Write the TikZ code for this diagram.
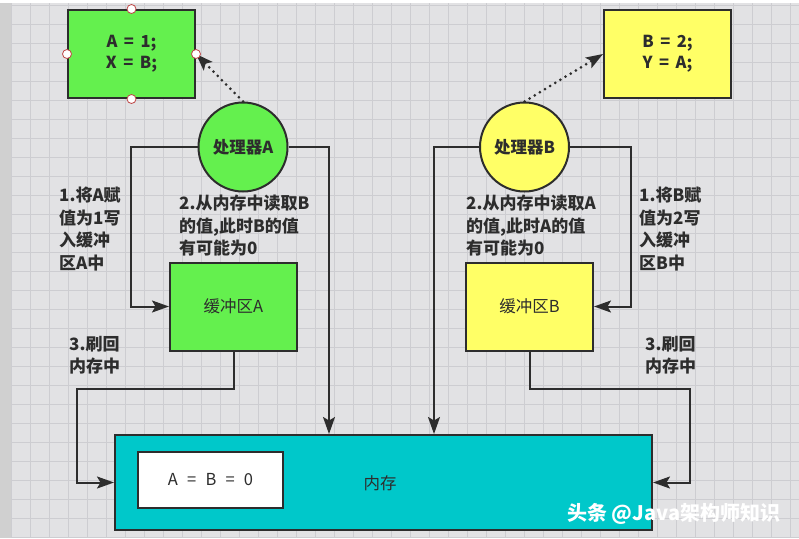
\documentclass[tikz,border=0pt]{standalone}
\usepackage{fontspec}
\setmainfont{Noto Sans CJK SC}
\usetikzlibrary{arrows.meta,positioning,calc}
\definecolor{gridbg}{RGB}{226,226,228}
\definecolor{gridln}{RGB}{205,205,209}
\definecolor{stripgray}{RGB}{208,208,208}
\definecolor{linegray}{RGB}{45,45,45}
\definecolor{textgray}{RGB}{45,45,45}
\definecolor{cpugreen}{RGB}{100,240,78}
\definecolor{cpuyellow}{RGB}{255,255,102}
\definecolor{memcyan}{RGB}{0,200,202}
\definecolor{handlered}{RGB}{190,70,70}

\begin{document}
\begin{tikzpicture}[x=1pt,y=-1pt,
    box/.style={draw=linegray, line width=2pt, minimum width=127pt, minimum height=88pt, inner sep=0pt},
    cpu/.style={circle, draw=linegray, line width=2pt, minimum size=89pt, inner sep=0pt, font=\fontsize{16.5}{18}\selectfont\bfseries, text=textgray},
    code/.style={box, align=center, font=\fontsize{16.5}{21}\selectfont\bfseries, text=textgray},
    plain/.style={font=\fontsize{16.5}{18}\selectfont, text=textgray},
    note/.style={anchor=north west, inner sep=0pt, align=left, font=\fontsize{17}{22.5}\selectfont\bfseries, text=textgray},
    arr/.style={-{Stealth[length=17pt,width=12pt,inset=3.5pt]}, line width=2pt, draw=linegray},
    dots/.style={-{Stealth[length=17pt,width=12pt,inset=3.5pt]}, line width=3pt, line cap=round, dash pattern=on 0pt off 6pt, draw=linegray},
    handle/.style={circle, draw=handlered, fill=white, line width=0.8pt, minimum size=9pt, inner sep=0pt}
]
\useasboundingbox (0,0) rectangle (799,538);
% background grid
\fill[gridbg] (0,0) rectangle (799,538);
\fill[white] (0,0) rectangle (799,3);
\fill[stripgray] (0,3) rectangle (11,538);
\foreach \x in {11.7,30.7,...,799} \draw[gridln, line width=0.8pt] (\x,3) -- (\x,538);
\foreach \y in {5.8,24.8,...,538} \draw[gridln, line width=0.8pt] (11,\y) -- (799,\y);

\node[code, fill=cpugreen] (codeA) at (131.5,54) {A\, = \,1;\\X\, = \,B;};
\node[code, fill=cpuyellow] (codeB) at (667.5,54) {B\, = \,2;\\Y\, = \,A;};
\node[cpu, fill=cpugreen] (cpuA) at (243,147) {处理器A};
\node[cpu, fill=cpuyellow] (cpuB) at (524.5,147) {处理器B};
\node[box, plain, fill=cpugreen] (bufA) at (233.5,306.5) {缓冲区A};
\node[box, plain, fill=cpuyellow] (bufB) at (529.5,306.5) {缓冲区B};
\node[box, plain, fill=memcyan, minimum width=537pt, minimum height=95pt] (mem) at (383.5,482.5) {};
\node[plain] (memlbl) at (380,483) {内存};
\node[box, plain, fill=white, minimum width=145pt, minimum height=56pt] (init) at (210.5,480) {A\,\, = \,\,B\,\, = \,\,0};

\draw[dots] (cpuA.north) -- (codeA.east);
\draw[dots] (cpuB.north) -- (codeB.west);
\foreach \a in {north,south,east,west}
  \node[handle] (h-\a) at (codeA.\a) {};

\draw[arr] (cpuA.west) -| ([xshift=-38pt]bufA.west) -- (bufA.west);
\draw[arr] (cpuA.east) -| ([xshift=-54.5pt]mem.north);
\draw[arr] (bufA.south) |- ++(-156.5,37) |- (mem.west);
\draw[arr] (cpuB.west) -| ([xshift=50.5pt]mem.north);
\draw[arr] (cpuB.east) -| ([xshift=37pt]bufB.east) -- (bufB.east);
\draw[arr] (bufB.south) |- ++(160.5,37) |- (mem.east);

\node[note] (stepA1) at (59,187) {1.将A赋\\值为1写\\入缓冲\\区A中};
\node[note] (stepA2) at (179,195) {2.从内存中读取B\\的值,此时B的值\\有可能为0};
\node[note] (stepA3) at (69,336) {3.刷回\\内存中};
\node[note] (stepB2) at (466,195) {2.从内存中读取A\\的值,此时A的值\\有可能为0};
\node[note] (stepB1) at (639,187) {1.将B赋\\值为2写\\入缓冲\\区B中};
\node[note] (stepB3) at (645,336) {3.刷回\\内存中};

\node[anchor=west, inner sep=0pt, text=white, font=\fontsize{20}{22}\selectfont\bfseries] (mark) at (567,514) {头条 @Java架构师知识};
\end{tikzpicture}
\end{document}
